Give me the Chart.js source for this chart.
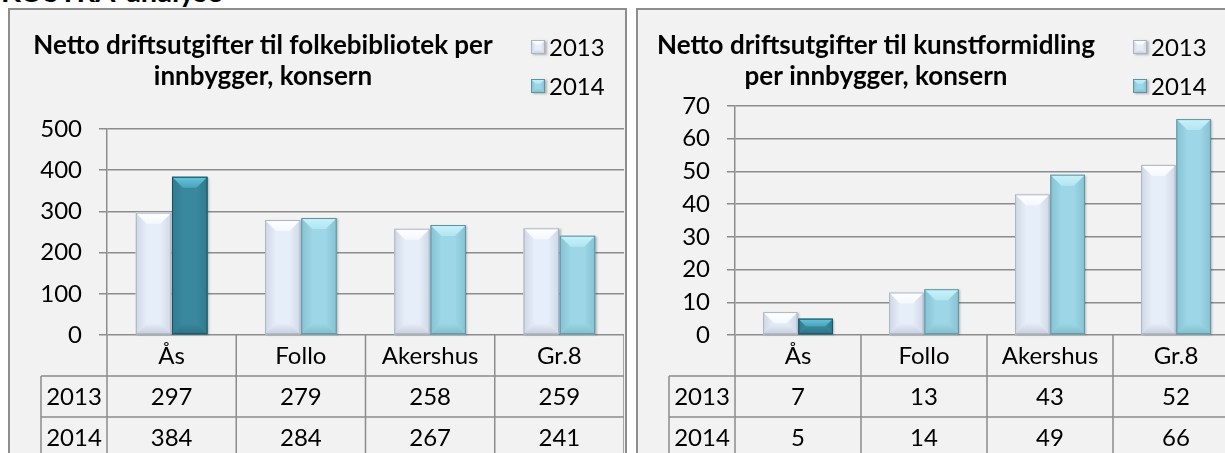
<!DOCTYPE html>
<html>
<head>
<meta charset="utf-8">
<script src="https://cdn.jsdelivr.net/npm/chart.js@4.4.1/dist/chart.umd.min.js"></script>
<style>
  html, body { margin: 0; padding: 0; background: #fff; width: 1225px; height: 453px; overflow: hidden; position: relative; }
  #heading { position: absolute; left: 1px; top: -24px; font: bold 29px Lato, sans-serif; color: #000; white-space: nowrap; line-height: 30px; }
  .frame { position: absolute; background: #f2f2f2; border: 2px solid #8d8d8d; box-sizing: border-box; }
  #f1 { left: 8px; top: 8px; width: 619px; height: 480px; }
  #f2 { left: 636px; top: 8px; width: 640px; height: 480px; }
  canvas { position: absolute; }
  #c1 { left: 10px; top: 10px; }
  #c2 { left: 638px; top: 10px; }
</style>
</head>
<body>
<div id="heading">KOSTRA-analyse</div>
<div class="frame" id="f1"></div>
<div class="frame" id="f2"></div>
<canvas id="c1" width="614" height="460"></canvas>
<canvas id="c2" width="620" height="460"></canvas>
<script>
// data
const categories = ["Ås", "Follo", "Akershus", "Gr.8"];
const years = ["2013", "2014"];
const bib2013 = [297, 279, 258, 259];
const bib2014 = [384, 284, 267, 241];
const kunst2013 = [7, 13, 43, 52];
const kunst2014 = [5, 14, 49, 66];
const bibTicks = [0, 100, 200, 300, 400, 500];
const kunstTicks = [0, 10, 20, 30, 40, 50, 60, 70];
const bibTitle = ["Netto driftsutgifter til folkebibliotek per", "innbygger, konsern"];
const kunstTitle = ["Netto driftsutgifter til kunstformidling", "per innbygger, konsern"];
const highlightIndex = 0; // Ås is drawn darker in 2014

const FONT = "Lato, sans-serif";
const GRID = "#8c8c8c";

const pal2013 = { body: "#e6eef9", top: "#ffffff", topEnd: "#f4f8fd", bottom: "#c6cedd", side: "#cfd7e5", border: "#a9b3c4" };
const pal2014 = { body: "#9dd6e6", top: "#c8f1fa", topEnd: "#b2e6f2", bottom: "#82bccb", side: "#86c2d2", border: "#5f93a1" };
const pal2014Dark = { body: "#3a889e", top: "#67c5dc", topEnd: "#4aa4bb", bottom: "#2d7184", side: "#2f7b8f", border: "#1e5261" };

function poly(ctx, pts, fill) {
  ctx.beginPath();
  ctx.moveTo(pts[0][0], pts[0][1]);
  for (let i = 1; i < pts.length; i++) ctx.lineTo(pts[i][0], pts[i][1]);
  ctx.closePath();
  ctx.fillStyle = fill;
  ctx.fill();
}

function bevelBox(ctx, l, t, w, h, pal) {
  const r = l + w, b = t + h;
  const d = Math.min(11, w / 3, h / 2);
  ctx.save();
  ctx.shadowColor = "rgba(0,0,0,0.25)";
  ctx.shadowOffsetX = 1.5;
  ctx.shadowOffsetY = 1;
  ctx.shadowBlur = 2;
  ctx.fillStyle = pal.body;
  ctx.fillRect(l, t, w, h);
  ctx.restore();
  let g = ctx.createLinearGradient(l, 0, l + d, 0);
  g.addColorStop(0, pal.side); g.addColorStop(1, pal.body);
  poly(ctx, [[l, t], [l + d, t + d], [l + d, b - d], [l, b]], g);
  g = ctx.createLinearGradient(r, 0, r - d, 0);
  g.addColorStop(0, pal.side); g.addColorStop(1, pal.body);
  poly(ctx, [[r, t], [r - d, t + d], [r - d, b - d], [r, b]], g);
  g = ctx.createLinearGradient(0, t, 0, t + d);
  g.addColorStop(0, pal.top); g.addColorStop(1, pal.topEnd);
  poly(ctx, [[l, t], [r, t], [r - d, t + d], [l + d, t + d]], g);
  g = ctx.createLinearGradient(0, b, 0, b - d);
  g.addColorStop(0, pal.bottom); g.addColorStop(1, pal.body);
  poly(ctx, [[l, b], [r, b], [r - d, b - d], [l + d, b - d]], g);
  ctx.strokeStyle = pal.border;
  ctx.lineWidth = 1;
  ctx.strokeRect(l + 0.5, t + 0.5, w - 1, h - 1);
}

function paletteFor(dsIndex, i) {
  if (dsIndex === 0) return pal2013;
  return i === highlightIndex ? pal2014Dark : pal2014;
}

const decoPlugin = {
  id: "deco",
  afterDatasetsDraw(chart) {
    const ctx = chart.ctx;
    chart.data.datasets.forEach((ds, di) => {
      chart.getDatasetMeta(di).data.forEach((el, i) => {
        const p = el.getProps(["x", "y", "base", "width"], true);
        const t = Math.min(p.y, p.base), h = Math.abs(p.base - p.y);
        bevelBox(ctx, p.x - p.width / 2, t, p.width, h, paletteFor(di, i));
      });
    });
  },
  afterDraw(chart, args, opts) {
    const ctx = chart.ctx;
    const xs = chart.scales.x, area = chart.chartArea;
    const n = chart.data.labels.length;
    const w = xs.getPixelForValue(1) - xs.getPixelForValue(0);
    const left = xs.getPixelForValue(0) - w / 2;
    const right = left + n * w;
    const rowH = 41, headW = 66, y0 = area.bottom;
    const end = y0 + 3 * rowH + 10;

    ctx.save();
    ctx.strokeStyle = GRID;
    ctx.lineWidth = 1.5;
    ctx.beginPath();
    for (let i = 0; i <= n; i++) {
      ctx.moveTo(left + i * w, y0);
      ctx.lineTo(left + i * w, end);
    }
    ctx.moveTo(left - headW, y0 + rowH);
    ctx.lineTo(left - headW, end);
    for (let r = 1; r <= 3; r++) {
      ctx.moveTo(left - headW, y0 + r * rowH);
      ctx.lineTo(right, y0 + r * rowH);
    }
    ctx.stroke();

    ctx.fillStyle = "#000";
    ctx.font = "24px " + FONT;
    ctx.textAlign = "center";
    ctx.textBaseline = "middle";
    chart.data.labels.forEach((c, i) => ctx.fillText(c, xs.getPixelForValue(i), y0 + rowH / 2 + 1));
    chart.data.datasets.forEach((ds, r) => {
      const yy = y0 + (r + 1) * rowH + rowH / 2 + 1;
      ctx.fillText(ds.label, left - headW / 2, yy);
      ds.data.forEach((v, i) => ctx.fillText(String(v), xs.getPixelForValue(i), yy));
    });

    // title
    ctx.font = "bold 26px " + FONT;
    opts.title.forEach((line, k) => ctx.fillText(line, opts.titleX, 36 + k * 31));

    // legend
    ctx.textAlign = "left";
    ctx.font = "24px " + FONT;
    chart.data.datasets.forEach((ds, k) => {
      const ly = 37 + k * 39;
      bevelBox(ctx, opts.legendX, ly - 7, 14, 14, k === 0 ? pal2013 : pal2014);
      ctx.fillStyle = "#000";
      ctx.fillText(ds.label, opts.legendX + 18, ly + 1);
    });
    ctx.restore();
  }
};

function makeChart(id, v2013, v2014, ticks, title, geom) {
  const canvas = document.getElementById(id);
  return new Chart(canvas, {
    type: "bar",
    data: {
      labels: categories,
      datasets: [
        { label: years[0], data: v2013, backgroundColor: pal2013.body },
        { label: years[1], data: v2014, backgroundColor: v2014.map((v, i) => i === highlightIndex ? pal2014Dark.body : pal2014.body) }
      ]
    },
    options: {
      responsive: false,
      animation: false,
      layout: { padding: { top: geom.top, right: geom.right, left: 0, bottom: canvas.height - geom.bottom } },
      datasets: { bar: { categoryPercentage: 0.56, barPercentage: 0.98 } },
      plugins: {
        legend: { display: false },
        tooltip: { enabled: false },
        deco: { title: title, titleX: geom.titleX, legendX: geom.legendX }
      },
      scales: {
        x: { display: false },
        y: {
          min: ticks[0],
          max: ticks[ticks.length - 1],
          ticks: { stepSize: ticks[1] - ticks[0], color: "#000", padding: 17, font: { family: FONT, size: 24 } },
          grid: { color: GRID, lineWidth: 1.5, tickLength: 8 },
          border: { color: GRID, width: 1.5 },
          afterFit: s => { s.width = 97; }
        }
      }
    },
    plugins: [decoPlugin]
  });
}

makeChart("c1", bib2013, bib2014, bibTicks, bibTitle, { top: 119, bottom: 325, right: 0, titleX: 253, legendX: 521 });
makeChart("c2", kunst2013, kunst2014, kunstTicks, kunstTitle, { top: 96, bottom: 325, right: 19, titleX: 238, legendX: 495 });
</script>
</body>
</html>
